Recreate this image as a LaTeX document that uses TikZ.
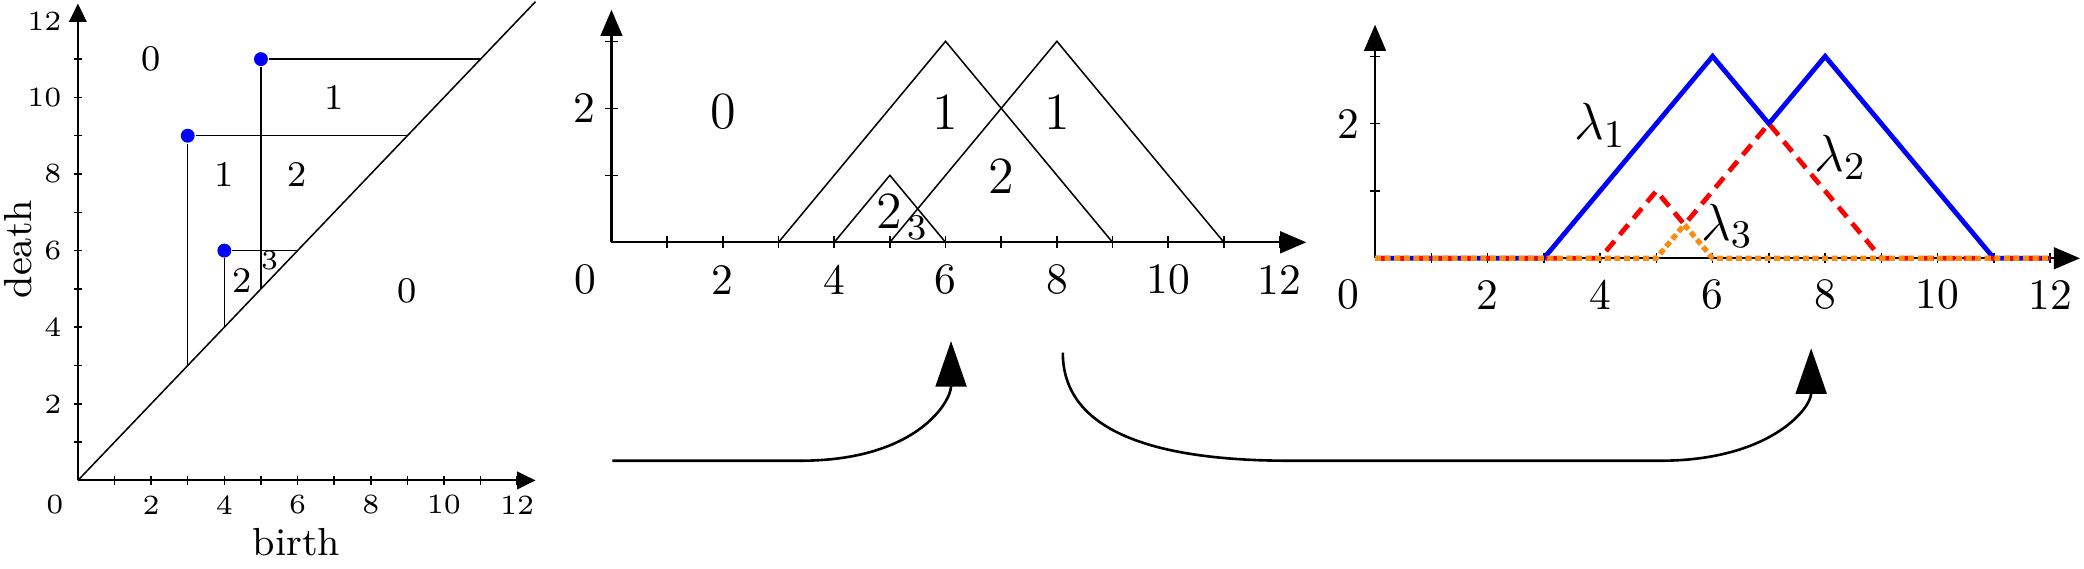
\documentclass[tikz,border=0pt]{standalone}
\usepackage{amsmath}
\usepackage{amssymb}
\usetikzlibrary{arrows.meta}
\definecolor{lorange}{RGB}{250,140,20}

\begin{document}
\begin{tikzpicture}[
ax/.style={line width=0.45pt},
thin line/.style={line width=0.35pt},
pdarr/.style={-{Triangle[length=4.2pt,width=4pt]}},
lsarr/.style={-{Triangle[length=6pt,width=5pt]}},
bigarr/.style={line width=0.6pt, -{Triangle[length=10.5pt,width=7.1pt]}},
dot/.style={circle, fill=blue, inner sep=0pt, minimum size=3.2pt},
pdnum/.style={font=\fontsize{6.4}{7}\selectfont, inner sep=0pt},
pdreg/.style={font=\fontsize{8.3}{9}\selectfont, inner sep=0pt},
pdsmall/.style={font=\fontsize{6.4}{7}\selectfont, inner sep=0pt},
pdaxis/.style={font=\fontsize{9}{10}\selectfont, inner sep=0pt},
lsnum/.style={font=\fontsize{10}{12}\selectfont, inner sep=0pt},
lsreg/.style={font=\fontsize{12}{14}\selectfont, inner sep=0pt},
lssmall/.style={font=\fontsize{8.3}{9}\selectfont, inner sep=0pt},
lam/.style={font=\fontsize{13}{15}\selectfont, inner sep=0pt},
lone/.style={blue, line width=1.1pt},
ltwo/.style={red, line width=1.1pt, dash pattern=on 3pt off 1.9pt},
lthree/.style={lorange, line width=1.2pt, dash pattern=on 1.4pt off 0.8pt}]

\useasboundingbox (0,0) rectangle (16.84,4.59);

% persistence diagram
\begin{scope}[shift={(0.6295,0.7079)}, x=0.2958cm, y=0.3095cm]
 \draw[ax, pdarr] (0,0) -- (12.5,0);
 \draw[ax, pdarr] (0,0) -- (0,12.45);
 \foreach \t in {1,...,12} {
   \draw[thin line] (\t,0) ++(0pt,1pt) -- ++(0pt,-2pt);
   \draw[thin line] (0,\t) ++(1pt,0pt) -- ++(-2pt,0pt);
 }
 \foreach \t in {2,4,...,12} {
   \node[pdnum] (pdx\t) at (\t,-0.64) {\t};
   \node[pdnum, anchor=east] (pdy\t) at (-0.43,\t) {\t};
 }
 \node[pdnum] (pdo) at (-0.63,-0.64) {0};
 \node[pdaxis] (birth) at (5.97,-1.61) {birth};
 \node[pdaxis, rotate=90] (death) at (-1.62,6.04) {death};
 \draw[thin line] (0,0) -- (12.5,12.5);

 \node[dot] (p1) at (3,9) {};
 \node[dot] (p2) at (5,11) {};
 \node[dot] (p3) at (4,6) {};
 \draw[thin line] (p1) -- (3,3);
 \draw[thin line] (p1) -- (9,9);
 \draw[thin line] (p2) -- (5,5);
 \draw[thin line] (p2) -- (11,11);
 \draw[thin line] (p3) -- (4,4);
 \draw[thin line] (p3) -- (6,6);

 \node[pdreg] (r0a) at (2,11) {0};
 \node[pdreg] (r1a) at (7,10) {1};
 \node[pdreg] (r1b) at (4,8) {1};
 \node[pdreg] (r2a) at (6,8) {2};
 \node[pdreg] (r2b) at (4.49,5.22) {2};
 \node[pdsmall] (r3) at (5.24,5.74) {3};
 \node[pdreg] (r0b) at (9,4.94) {0};
\end{scope}

% tents with counts
\begin{scope}[shift={(4.941,2.632)}, x=0.4499cm, y=0.5414cm]
 \draw[line width=0.5pt, lsarr] (0,0) -- (12.48,0);
 \draw[line width=0.5pt, lsarr] (0,0) -- (0,3.47);
 \foreach \t in {1,...,12}
   \draw[thin line] (\t,0) ++(0pt,1.4pt) -- ++(0pt,-2.8pt);
 \foreach \t in {1,2,3}
   \draw[thin line] (0,\t) ++(1.4pt,0pt) -- ++(-2.8pt,0pt);
 \foreach \t in {2,4,...,12}
   \node[lsnum] (tx\t) at (\t,-0.56) {\t};
 \node[lsnum] (to) at (-0.47,-0.56) {0};
 \node[lsnum] (ty2) at (-0.48,2) {2};

 \draw[thin line] (3,0) -- (6,3) -- (9,0);
 \draw[thin line] (5,0) -- (8,3) -- (11,0);
 \draw[thin line] (4,0) -- (5,1) -- (6,0);

 \node[lsreg] (c0) at (2,1.95) {0};
 \node[lsreg] (c1a) at (6,1.95) {1};
 \node[lsreg] (c1b) at (8,1.95) {1};
 \node[lsreg] (c2a) at (7,0.98) {2};
 \node[lsreg] (c2b) at (4.99,0.46) {2};
 \node[lssmall] (c3) at (5.49,0.21) {3};
\end{scope}

% landscape functions
\begin{scope}[shift={(11.111,2.503)}, x=0.4546cm, y=0.5439cm]
 \draw[line width=0.5pt, lsarr] (0,0) -- (12.53,0);
 \draw[line width=0.5pt, lsarr] (0,0) -- (0,3.47);
 \foreach \t in {1,...,12}
   \draw[thin line] (\t,0) ++(0pt,1.1pt) -- ++(0pt,-2.2pt);
 \foreach \t in {1,2,3}
   \draw[thin line] (0,\t) ++(1.1pt,0pt) -- ++(-2.2pt,0pt);
 \foreach \t in {2,4,...,12}
   \node[lsnum] (lx\t) at (\t,-0.545) {\t};
 \node[lsnum] (lo) at (-0.47,-0.545) {0};
 \node[lsnum] (ly2) at (-0.47,2) {2};

 \draw[lone] (0,0) -- (3,0) -- (6,3) -- (7,2) -- (8,3) -- (11,0) -- (12,0);
 \draw[ltwo] (0,0) -- (4,0) -- (5,1) -- (5.5,0.5) -- (7,2) -- (9,0) -- (12,0);
 \draw[lthree] (0,0) -- (5,0) -- (5.5,0.5) -- (6,0) -- (12,0);

 \node[lam] (lam1) at (4.0,1.98) {$\lambda_1$};
 \node[lam] (lam2) at (8.27,1.50) {$\lambda_2$};
 \node[lam] (lam3) at (6.26,0.48) {$\lambda_3$};
\end{scope}

\coordinate (s1) at (4.948,0.867);
\coordinate (e1) at (7.685,1.834);
\coordinate (s2) at (8.588,1.740);
\coordinate (e2) at (14.635,1.776);
\draw[bigarr] (s1) -- (6.465,0.867) .. controls +(0.95,0) and +(0,-0.485) .. (e1);
\draw[bigarr] (s2) .. controls +(0,-0.584) and +(-1.212,0) .. (10.424,0.867) -- (13.414,0.867) .. controls +(0.889,0) and +(0,-0.485) .. (e2);

\end{tikzpicture}
\end{document}
